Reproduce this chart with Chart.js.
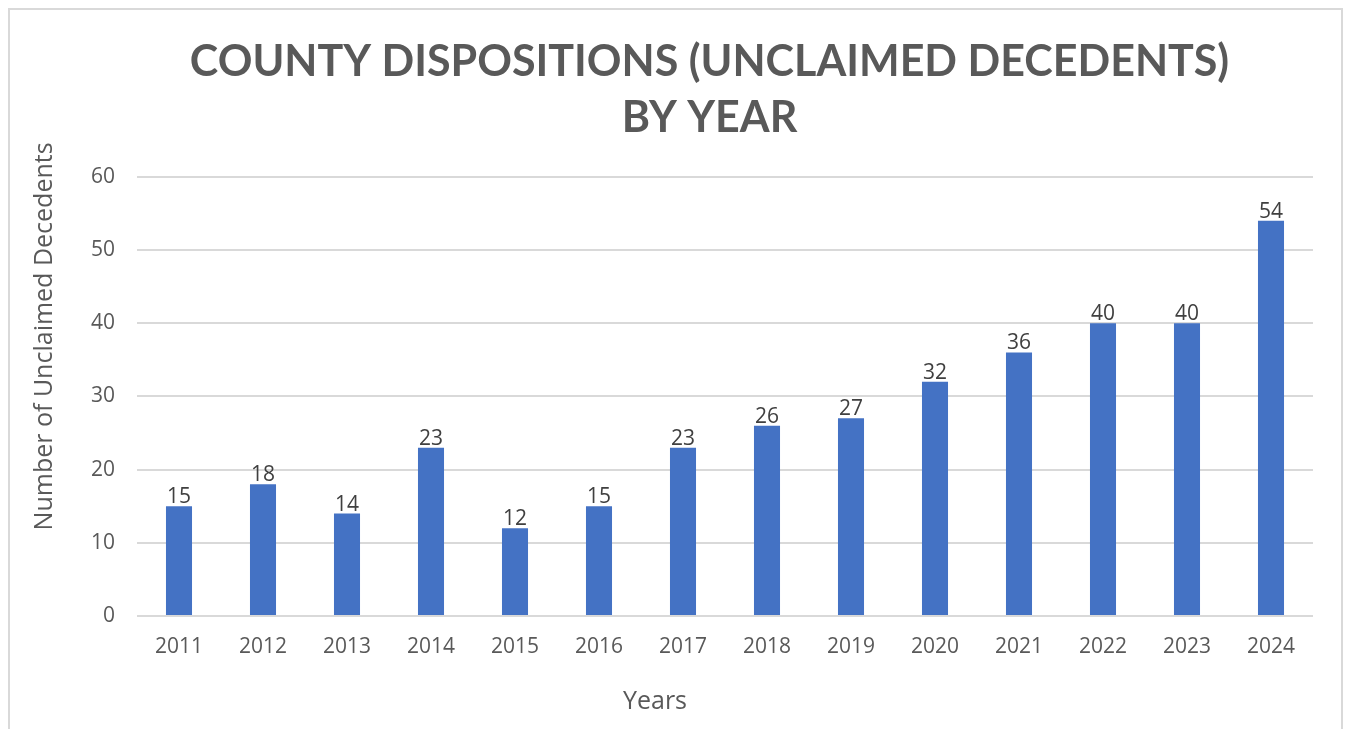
<html>
  <head>
    <script src="https://cdn.jsdelivr.net/npm/chart.js@4.4.1/dist/chart.umd.min.js"></script>
    <title>County dispositions by year</title>
    <style>
      body { margin: 0; background: #fff; overflow: hidden; }
      #frame { position: fixed; left: 8px; top: 8px; width: 1335px; height: 800px; box-sizing: border-box; border: 2px solid #d9d9d9; }
      #myChart { position: fixed; left: 0; top: 0; }
    </style>
  </head>
  <body>
    <div id="frame"></div>
    <canvas id="myChart" width="1347" height="729"></canvas>

    <script>
// data
const years = ['2011', '2012', '2013', '2014', '2015', '2016', '2017', '2018', '2019', '2020', '2021', '2022', '2023', '2024'];
const decedents = [15, 18, 14, 23, 12, 15, 23, 26, 27, 32, 36, 40, 40, 54];
const titleLines = ['COUNTY DISPOSITIONS (UNCLAIMED DECEDENTS)', 'BY YEAR'];
const xTitle = 'Years';
const yTitle = 'Number of Unclaimed Decedents';

const grey = '#595959';

// value above each bar (no datalabels plugin offline)
const barValues = {
  id: 'barValues',
  afterDatasetsDraw(chart) {
    const ctx = chart.ctx;
    const meta = chart.getDatasetMeta(0);
    ctx.save();
    ctx.font = '21px "Open Sans"';
    ctx.fillStyle = '#404040';
    ctx.textAlign = 'center';
    ctx.textBaseline = 'alphabetic';
    meta.data.forEach((bar, i) => {
      ctx.fillText(decedents[i], bar.x, bar.y - 3);
    });
    ctx.restore();
  }
};

// excel puts the title and axis titles a bit off the plot centre
const offCentre = {
  id: 'offCentre',
  afterLayout(chart) {
    const t = chart.titleBlock;
    t.left += 53;
    t.right += 53;
  },
  afterDraw(chart) {
    const ctx = chart.ctx;
    const a = chart.chartArea;
    ctx.save();
    ctx.font = '25px "Open Sans"';
    ctx.fillStyle = grey;
    ctx.textAlign = 'center';
    ctx.textBaseline = 'middle';
    ctx.fillText(xTitle, (a.left + a.right) / 2 - 70, 702);
    ctx.translate(45, (a.top + a.bottom) / 2 - 60);
    ctx.rotate(-Math.PI / 2);
    ctx.fillText(yTitle, 0, 0);
    ctx.restore();
  }
};

var canvas = document.getElementById("myChart");
var myChart = new Chart(canvas, {
  type: "bar",
  plugins: [barValues, offCentre],
  data: {
    labels: years,
    datasets: [
      {
        data: decedents,
        backgroundColor: "#4472C4",
        borderWidth: 0,
        barPercentage: 0.31,
        categoryPercentage: 1.0
      }
    ]
  },
  options: {
    responsive: false,
    animation: false,
    devicePixelRatio: 1,
    layout: {
      padding: { left: 0, right: 34, top: 0, bottom: 0 }
    },
    plugins: {
      legend: { display: false },
      tooltip: { enabled: false },
      title: {
        display: true,
        text: titleLines,
        color: grey,
        font: { family: 'Lato', size: 43, weight: 'bold', lineHeight: 1.3 },
        padding: { top: 34, bottom: 31 }
      }
    },
    scales: {
      x: {
        grid: { display: false, drawTicks: false },
        border: { display: false },
        ticks: {
          color: grey,
          font: { family: 'Open Sans', size: 21 },
          padding: 18,
          maxRotation: 0
        },
        afterFit(scale) { scale.height = 113; }
      },
      y: {
        min: 0,
        max: 60,
        grid: { color: '#d9d9d9', lineWidth: 2, drawTicks: false },
        border: { display: false },
        ticks: {
          stepSize: 10,
          color: grey,
          font: { family: 'Open Sans', size: 21 },
          padding: 22
        },
        afterFit(scale) { scale.width = 137; }
      }
    }
  }
});
    </script>
  </body>
</html>
